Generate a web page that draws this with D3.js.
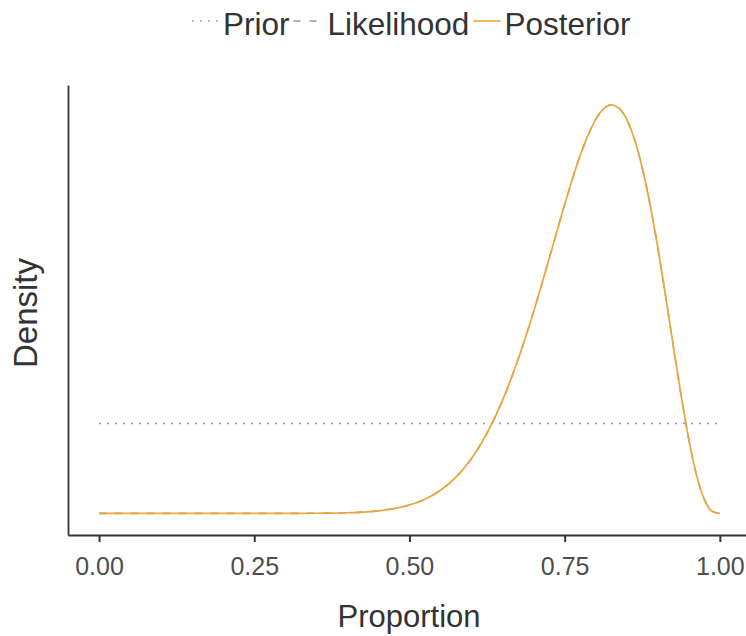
<!DOCTYPE html>
<html>
<head>
<meta charset="utf-8">
<script src="https://cdn.jsdelivr.net/npm/d3@7"></script>
<style>
  html, body { margin: 0; padding: 0; background: #fff; }
  svg { display: block; font-family: "Liberation Sans", Arial, sans-serif; }
</style>
</head>
<body>
<svg id="chart" width="746" height="636"></svg>
<script>
// ---- data ----
const proportion = [0, 0.05, 0.1, 0.15, 0.2, 0.25, 0.3,
  0.35, 0.375, 0.4, 0.425, 0.45, 0.475, 0.5,
  0.525, 0.55, 0.575, 0.6, 0.625, 0.65, 0.675, 0.7,
  0.725, 0.75, 0.775, 0.7875, 0.8, 0.8125, 0.825, 0.8375,
  0.85, 0.8625, 0.875, 0.8875, 0.9, 0.9125, 0.925, 0.9375,
  0.95, 0.9625, 0.975, 0.9875, 1];
const posterior = [0, 0, 0, 0, 0, 0, 0.0002,
  0.0014, 0.0033, 0.0071, 0.0146, 0.0284, 0.0525, 0.0929,
  0.1575, 0.257, 0.403, 0.610, 0.891, 1.256, 1.709, 2.241,
  2.829, 3.430, 3.976, 4.198, 4.376, 4.494, 4.540, 4.503,
  4.378, 4.156, 3.840, 3.435, 2.955, 2.421, 1.862, 1.316,
  0.823, 0.425, 0.155, 0.024, 0];
const likelihood = [0, 0, 0, 0, 0, 0, 0.0002,
  0.0014, 0.0033, 0.0071, 0.0146, 0.0284, 0.0525, 0.0929,
  0.1575, 0.257, 0.403, 0.610, 0.891, 1.256, 1.709, 2.241,
  2.829, 3.430, 3.976, 4.198, 4.376, 4.494, 4.540, 4.503,
  4.378, 4.156, 3.840, 3.435, 2.955, 2.421, 1.862, 1.316,
  0.823, 0.425, 0.155, 0.024, 0];
const priorX = [0, 1];
const prior = [1, 1];
const xTicks = [0, 0.25, 0.5, 0.75, 1];
const xTickLabels = ["0.00", "0.25", "0.50", "0.75", "1.00"];
const seriesNames = ["Prior", "Likelihood", "Posterior"];
const seriesColors = ["#7BA3E6", "#999999", "#E9A73A"];
const seriesDash = ["2,6", "7,9", null];

// ---- layout ----
const svg = d3.select("#chart");
const plotLeft = 68, plotTop = 85, plotBottom = 535;
const x = d3.scaleLinear().domain([-0.05, 1.05]).range([plotLeft, plotLeft + 1.1 * 620.8]);
const y = d3.scaleLinear().domain([-0.24, 4.76]).range([plotBottom, plotTop]);

const line = d3.line().x(d => x(d[0])).y(d => y(d[1])).curve(d3.curveMonotoneX);

const plot = svg.append("g");
// prior
plot.append("path")
  .attr("d", line(priorX.map((v, i) => [v, prior[i]])))
  .attr("fill", "none").attr("stroke", seriesColors[0])
  .attr("stroke-width", 1.6).attr("stroke-dasharray", seriesDash[0]);
// likelihood (hidden under posterior)
plot.append("path")
  .attr("d", line(proportion.map((v, i) => [v, likelihood[i]])))
  .attr("fill", "none").attr("stroke", seriesColors[1])
  .attr("stroke-width", 1.6).attr("stroke-dasharray", seriesDash[1]);
// posterior
plot.append("path")
  .attr("d", line(proportion.map((v, i) => [v, posterior[i]])))
  .attr("fill", "none").attr("stroke", seriesColors[2])
  .attr("stroke-width", 1.7);

// ---- axes ----
const xAxis = d3.axisBottom(x).tickValues(xTicks)
  .tickFormat((d, i) => xTickLabels[i]).tickSize(7).tickPadding(15).tickSizeOuter(0);
const gx = svg.append("g").attr("transform", `translate(0,${plotBottom})`).call(xAxis);
gx.select(".domain").attr("stroke", "#333").attr("stroke-width", 1.8);
gx.selectAll(".tick line").attr("stroke", "#333").attr("stroke-width", 2);
gx.selectAll(".tick text").attr("fill", "#4D4D4D")
  .style("font-size", "25px").style("font-family", "'Liberation Sans', Arial, sans-serif");

const yAxis = d3.axisLeft(y).tickValues([]).tickSizeOuter(0);
const gy = svg.append("g").attr("transform", `translate(${plotLeft},0)`).call(yAxis);
gy.select(".domain").attr("stroke", "#333").attr("stroke-width", 1.8);

// axis titles
svg.append("text").attr("x", 409).attr("y", 627).attr("text-anchor", "middle")
  .attr("fill", "#333").style("font-size", "31px").text("Proportion");
svg.append("text").attr("transform", "translate(37,313) rotate(-90)")
  .attr("text-anchor", "middle").attr("fill", "#333").style("font-size", "33px").text("Density");

// ---- legend ----
const leg = svg.append("g");
let cx = 192;
const keyW = 27, keyY = 21, textY = 35;
seriesNames.forEach((name, i) => {
  const l = leg.append("line").attr("x1", cx).attr("x2", cx + keyW)
    .attr("y1", keyY).attr("y2", keyY)
    .attr("stroke", seriesColors[i]).attr("stroke-width", 1.6);
  if (seriesDash[i]) l.attr("stroke-dasharray", seriesDash[i]);
  cx += keyW + (i === 1 ? 7 : 4);
  const t = leg.append("text").attr("x", cx).attr("y", textY)
    .attr("fill", "#333").style("font-size", "31.5px").text(name);
  cx += t.node().getComputedTextLength() + 4;
});
</script>
</body>
</html>
